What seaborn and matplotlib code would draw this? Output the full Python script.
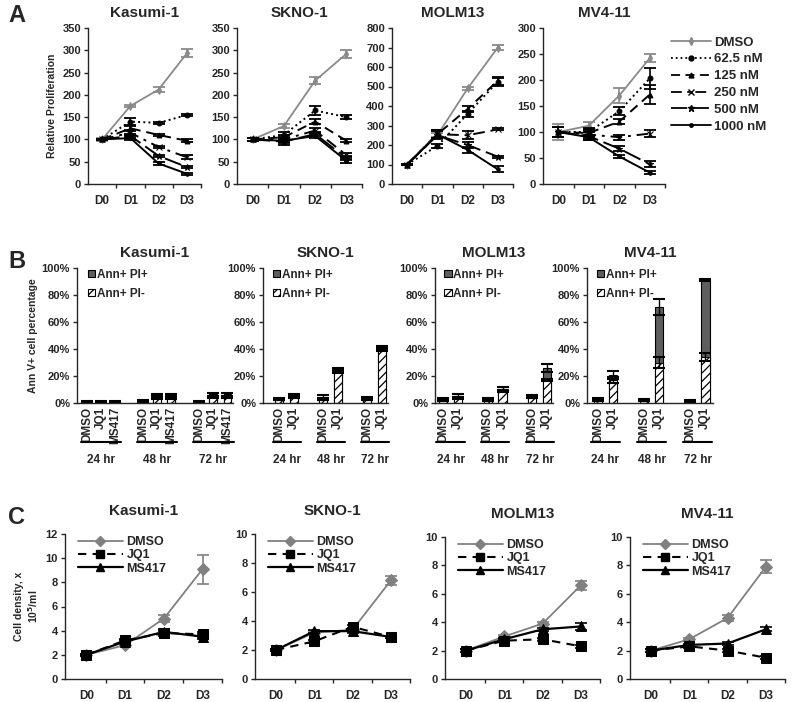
import numpy as np
import pandas as pd
import seaborn as sns
import matplotlib.pyplot as plt
from matplotlib.patches import Patch
from matplotlib.lines import Line2D
import matplotlib.transforms as mtrans

sns.set_style("white")
plt.rcParams['font.family'] = ['Liberation Sans', 'DejaVu Sans']
plt.rcParams['font.weight'] = 'bold'
plt.rcParams['axes.labelweight'] = 'bold'
plt.rcParams['hatch.linewidth'] = 0.9

W, H = 800, 702

# ---------------- data: panel A (relative proliferation) ----------------
days = ['D0', 'D1', 'D2', 'D3']
doses = ['DMSO', '62.5 nM', '125 nM', '250 nM', '500 nM', '1000 nM']

kasumi_prolif = [[100, 175, 212, 293], [100, 140, 137, 155], [100, 125, 110, 97],
                 [100, 115, 83, 60], [100, 108, 63, 38], [100, 103, 46, 23]]
kasumi_prolif_err = [[3, 3, 6, 9], [2, 8, 3, 3], [2, 6, 3, 3],
                     [2, 6, 3, 4], [2, 5, 3, 3], [2, 4, 3, 2]]
skno_prolif = [[100, 130, 232, 292], [100, 110, 165, 150], [100, 105, 140, 97],
               [100, 100, 120, 65], [100, 95, 112, 58], [100, 97, 108, 52]]
skno_prolif_err = [[4, 5, 7, 9], [4, 6, 10, 5], [4, 6, 5, 3],
                   [4, 6, 5, 5], [4, 8, 5, 5], [4, 6, 5, 5]]
molm_prolif = [[100, 250, 490, 700], [100, 195, 360, 525], [100, 255, 385, 530],
               [100, 255, 250, 280], [100, 250, 200, 140], [100, 255, 175, 75]]
molm_prolif_err = [[5, 10, 8, 15], [5, 10, 15, 20], [5, 20, 15, 20],
                   [5, 20, 20, 5], [5, 20, 15, 5], [5, 20, 15, 15]]
mv4_prolif = [[100, 112, 170, 242], [100, 100, 140, 203], [100, 98, 120, 172],
              [100, 95, 90, 97], [100, 92, 68, 38], [100, 90, 53, 22]]
mv4_prolif_err = [[15, 8, 15, 8], [10, 8, 8, 20], [10, 8, 5, 18],
                  [10, 8, 5, 6], [10, 8, 5, 6], [10, 5, 3, 3]]

# ---------------- data: panel B (apoptosis) ----------------
times = ['24 hr', '48 hr', '72 hr']
kas_drugs = ['DMSO', 'JQ1', 'MS417']
two_drugs = ['DMSO', 'JQ1']

kas_pi_neg = [0.5, 0.6, 0.6, 1.0, 4.0, 4.0, 0.5, 4.5, 4.5]
kas_pi_pos = [0.4, 0.5, 0.5, 0.8, 1.5, 1.5, 0.4, 2.0, 2.0]
kas_err_neg = [0.2, 0.2, 0.2, 0.3, 1.0, 1.0, 0.2, 1.0, 1.0]
kas_err_tot = [0.3, 0.3, 0.3, 0.4, 1.0, 1.0, 0.3, 1.0, 1.0]

skno_pi_neg = [2.5, 4.5, 3.0, 23.5, 2.5, 39.5]
skno_pi_pos = [1.0, 1.5, 1.5, 1.5, 1.5, 1.5]
skno_err_neg = [0.5, 0.8, 1.0, 1.0, 0.5, 1.0]
skno_err_tot = [0.5, 0.8, 1.5, 1.0, 0.5, 1.0]

molm_pi_neg = [2.0, 4.0, 2.0, 9.0, 4.0, 17.0]
molm_pi_pos = [1.0, 1.5, 1.0, 1.5, 1.0, 9.0]
molm_err_neg = [0.5, 0.8, 0.5, 1.0, 0.5, 1.0]
molm_err_tot = [0.5, 0.8, 0.5, 1.0, 0.8, 3.0]

mv4_pi_neg = [2.0, 17.0, 1.5, 30.0, 1.0, 34.0]
mv4_pi_pos = [1.2, 3.5, 0.8, 41.0, 0.7, 57.0]
mv4_err_neg = [0.5, 2.0, 0.3, 4.0, 0.3, 3.0]
mv4_err_tot = [0.5, 3.0, 0.3, 6.0, 0.3, 0.5]

# ---------------- data: panel C (cell density) ----------------
treatments = ['DMSO', 'JQ1', 'MS417']
kasumi_density = [[2.0, 2.8, 5.0, 9.1], [2.0, 3.2, 3.8, 3.7], [2.0, 3.1, 3.9, 3.5]]
kasumi_density_err = [[0.1, 0.1, 0.3, 1.2], [0.1, 0.1, 0.2, 0.2], [0.1, 0.1, 0.2, 0.2]]
skno_density = [[2.0, 3.2, 3.4, 6.8], [2.0, 2.6, 3.6, 2.9], [2.0, 3.3, 3.3, 2.9]]
skno_density_err = [[0.1, 0.1, 0.1, 0.3], [0.1, 0.1, 0.1, 0.1], [0.1, 0.1, 0.1, 0.1]]
molm_density = [[2.0, 3.0, 3.9, 6.6], [2.0, 2.7, 2.8, 2.3], [2.0, 2.8, 3.5, 3.7]]
molm_density_err = [[0.1, 0.1, 0.1, 0.3], [0.1, 0.1, 0.1, 0.1], [0.1, 0.1, 0.1, 0.25]]
mv4_density = [[2.0, 2.8, 4.3, 7.9], [2.0, 2.3, 2.0, 1.5], [2.0, 2.4, 2.5, 3.5]]
mv4_density_err = [[0.1, 0.1, 0.2, 0.45], [0.1, 0.1, 0.1, 0.1], [0.1, 0.1, 0.1, 0.15]]


def rect(l, t, r, b):
    return [l / W, 1 - b / H, (r - l) / W, (b - t) / H]


def clean(ax):
    sns.despine(ax=ax)
    ax.spines['left'].set_linewidth(1.0)
    ax.spines['bottom'].set_linewidth(1.0)
    ax.tick_params(axis='y', direction='out', length=3, width=1, left=True, labelsize=8, pad=2)


fig = plt.figure(figsize=(8, 7.02), dpi=100)

# ---------------- panel A ----------------
a_styles = [
    dict(color='#8a8a8a', linestyle='-', marker='d', markersize=4),
    dict(color='black', linestyle=':', marker='o', markersize=3.5),
    dict(color='black', linestyle=(0, (5, 3)), marker='^', markersize=3.5),
    dict(color='black', linestyle=(0, (6, 3, 1.5, 3)), marker='x', markersize=4),
    dict(color='black', linestyle=(0, (9, 3)), marker='*', markersize=5),
    dict(color='black', linestyle='-', marker='o', markersize=2.5),
]
a_panels = [
    ('Kasumi-1', kasumi_prolif, kasumi_prolif_err, 350, 50, (88, 28, 201, 184)),
    ('SKNO-1', skno_prolif, skno_prolif_err, 350, 50, (237, 28, 362, 184)),
    ('MOLM13', molm_prolif, molm_prolif_err, 800, 100, (392, 28, 513, 184)),
    ('MV4-11', mv4_prolif, mv4_prolif_err, 300, 50, (543, 28, 665, 184)),
]
x = np.arange(len(days))
for i, (name, vals, errs, ymax, step, box) in enumerate(a_panels):
    ax = fig.add_axes(rect(*box))
    for dose, v, e, st in zip(doses, vals, errs, a_styles):
        lw = 1.4 if dose != 'DMSO' else 1.3
        sns.lineplot(x=x, y=v, ax=ax, linewidth=lw, label=dose,
                     markeredgecolor=st['color'], **st)
        ax.errorbar(x, v, yerr=e, fmt='none', ecolor=st['color'], elinewidth=1.2,
                    capsize=4, capthick=1.3)
    ax.set_xlim(-0.5, 3.3)
    ax.set_ylim(0, ymax)
    ax.set_yticks(np.arange(0, ymax + 1, step))
    ax.set_xticks(x)
    ax.set_xticklabels(days, fontsize=8.5)
    ax.set_xticks(x + 0.5, minor=True)
    ax.tick_params(axis='x', which='major', length=0, pad=8)
    ax.tick_params(axis='x', which='minor', length=3, width=1, bottom=True)
    clean(ax)
    ax.set_title(name, fontsize=11, fontweight='bold', pad=8)
    ax.get_legend().remove()
    if i == 0:
        ax.set_ylabel('Relative Proliferation', fontsize=7.5, labelpad=4)
    if i == 3:
        handles = [Line2D([], [], linewidth=1.3, markeredgecolor=st['color'], **st) for st in a_styles]
        ax.legend(handles, doses, loc='upper left', bbox_to_anchor=(1.01, 0.98),
                  frameon=False, fontsize=9.5, handlelength=3.0, handletextpad=0.2,
                  labelspacing=0.35, borderaxespad=0)

# ---------------- panel B ----------------
b_panels = [
    ('Kasumi-1', kas_drugs, kas_pi_neg, kas_pi_pos, kas_err_neg, kas_err_tot, (77, 268, 233, 403), (-0.7, 10.4)),
    ('SKNO-1', two_drugs, skno_pi_neg, skno_pi_pos, skno_err_neg, skno_err_tot, (263, 268, 388, 403), (-1.1, 7.4)),
    ('MOLM13', two_drugs, molm_pi_neg, molm_pi_pos, molm_err_neg, molm_err_tot, (435, 268, 553, 403), (-0.55, 7.4)),
    ('MV4-11', two_drugs, mv4_pi_neg, mv4_pi_pos, mv4_err_neg, mv4_err_tot, (587, 268, 713, 403), (-0.7, 7.5)),
]
for i, (name, drugs, pneg, ppos, eneg, etot, box, xl) in enumerate(b_panels):
    ax = fig.add_axes(rect(*box))
    keys, order, ticklabels, gaps, groups = [], [], [], [], []
    for g, t in enumerate(times):
        start = len(order)
        for d in drugs:
            keys.append(f'{t} {d}')
            order.append(f'{t} {d}')
            ticklabels.append(d)
        groups.append((start, len(order) - 1, t))
        if g < len(times) - 1:
            order.append(f'gap{g}')
            ticklabels.append('')
            gaps.append(len(order) - 1)
    df = pd.DataFrame({'key': keys, 'neg': pneg, 'pos': ppos})
    df['total'] = df['neg'] + df['pos']
    sns.barplot(data=df, x='key', y='total', order=order, ax=ax, color='#5e5e5e',
                saturation=1, width=0.55, edgecolor='black', linewidth=0.8, errorbar=None)
    sns.barplot(data=df, x='key', y='neg', order=order, ax=ax, color='white',
                saturation=1, width=0.55, edgecolor='black', linewidth=0.8, errorbar=None,
                hatch='////')
    pos = [order.index(k) for k in keys]
    ax.errorbar(pos, df['neg'], yerr=eneg, fmt='none', ecolor='black', elinewidth=1, capsize=4, capthick=1.5)
    ax.errorbar(pos, df['total'], yerr=etot, fmt='none', ecolor='black', elinewidth=1, capsize=4, capthick=1.5)
    ax.set_xlim(*xl)
    ax.set_ylim(0, 100)
    ax.set_yticks(np.arange(0, 101, 20))
    ax.set_yticklabels([f'{v}%' for v in range(0, 101, 20)])
    ax.set_xticks(range(len(order)))
    ax.set_xticklabels(ticklabels, rotation=90, fontsize=8.5)
    ax.tick_params(axis='x', which='major', length=0, pad=3)
    ax.set_xticks(gaps, minor=True)
    ax.tick_params(axis='x', which='minor', length=3, width=1, bottom=True)
    ax.set_xlabel('')
    ax.set_ylabel('')
    clean(ax)
    ax.set_title(name, fontsize=11, fontweight='bold', pad=8)
    tr = mtrans.blended_transform_factory(ax.transData, ax.transAxes)
    for s, e, t in groups:
        ax.plot([s - 0.45, e + 0.45], [-0.29, -0.29], color='black', linewidth=1.5,
                transform=tr, clip_on=False)
        ax.text((s + e) / 2, -0.38, t, transform=tr, ha='center', va='top', fontsize=8.5)
    if i == 0:
        ax.set_ylabel('Ann V+ cell percentage', fontsize=7.5, labelpad=3)
    leg_handles = [Patch(facecolor='#5e5e5e', edgecolor='black', linewidth=0.8),
                   Patch(facecolor='white', edgecolor='black', linewidth=0.8, hatch='////')]
    ax.legend(leg_handles, ['Ann+ PI+', 'Ann+ PI-'], loc='upper left', bbox_to_anchor=(0.04, 1.03),
              frameon=False, fontsize=8.5, handlelength=0.6, handleheight=0.6,
              handletextpad=0.15, labelspacing=0.6, borderaxespad=0)

# ---------------- panel C ----------------
c_styles = [
    dict(color='#808080', linestyle='-', marker='D', markersize=6.5, linewidth=1.3),
    dict(color='black', linestyle=(0, (4, 3)), marker='s', markersize=7.5, linewidth=1.5),
    dict(color='black', linestyle='-', marker='^', markersize=7, linewidth=1.6),
]
c_panels = [
    ('Kasumi-1', kasumi_density, kasumi_density_err, 12, (65, 534, 222, 679)),
    ('SKNO-1', skno_density, skno_density_err, 10, (255, 534, 410, 679)),
    ('MOLM13', molm_density, molm_density_err, 10, (445, 537, 600, 679)),
    ('MV4-11', mv4_density, mv4_density_err, 10, (630, 537, 785, 679)),
]
for i, (name, vals, errs, ymax, box) in enumerate(c_panels):
    ax = fig.add_axes(rect(*box))
    for tname, v, e, st in zip(treatments, vals, errs, c_styles):
        sns.lineplot(x=x, y=v, ax=ax, label=tname, markeredgecolor=st['color'], **st)
        ax.errorbar(x, v, yerr=e, fmt='none', ecolor=st['color'], elinewidth=1.2,
                    capsize=4, capthick=1.2)
    ax.set_xlim(-0.55, 3.35)
    ax.set_ylim(0, ymax)
    ax.set_yticks(np.arange(0, ymax + 1, 2))
    ax.set_xticks(x)
    ax.set_xticklabels(days, fontsize=8.5)
    ax.set_xticks(x + 0.5, minor=True)
    ax.tick_params(axis='x', which='major', length=0, pad=8)
    ax.tick_params(axis='x', which='minor', length=3, width=1, bottom=True)
    clean(ax)
    ax.set_title(name, fontsize=11, fontweight='bold', pad=14)
    handles = [Line2D([], [], markeredgecolor=st['color'], **st) for st in c_styles]
    ax.legend(handles, treatments, loc='upper left', bbox_to_anchor=(0.05, 1.02),
              frameon=False, fontsize=9, handlelength=3.6, handletextpad=0.3,
              labelspacing=0.1, borderaxespad=0, markerscale=0.8)
    if i == 0:
        ax.set_ylabel('Cell density, x\n10$^{\\mathbf{5}}$/ml', fontsize=7.5, labelpad=4)

# panel letters
for lab, yy in [('A', 15), ('B', 262), ('C', 518)]:
    fig.text(8 / W, 1 - yy / H, lab, fontsize=17, fontweight='bold', ha='left', va='center')

fig.savefig('out.png', dpi=100)
